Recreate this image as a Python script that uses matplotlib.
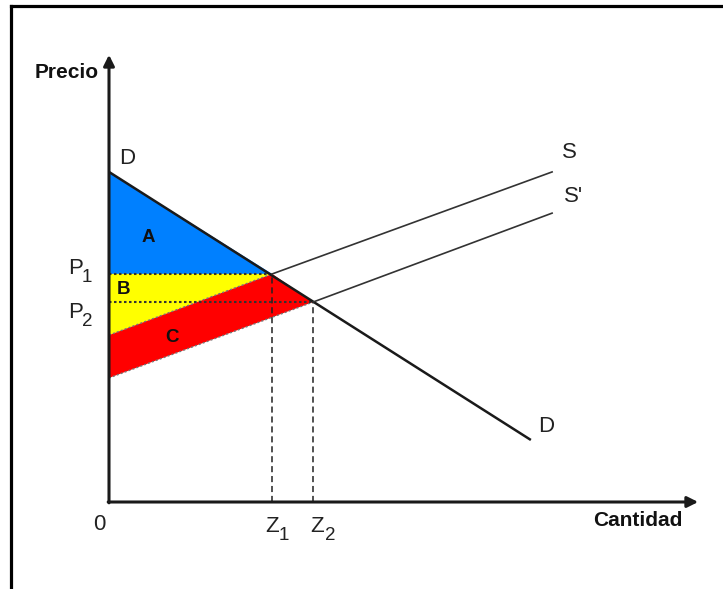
import matplotlib
matplotlib.use("Agg")
import matplotlib.pyplot as plt
from matplotlib.patches import Polygon
from matplotlib.lines import Line2D

plt.rcParams['font.family'] = ['Liberation Sans', 'DejaVu Sans']

# ---- data (economic units) ----
demand_q = [0.0, 10.34]
demand_p = [8.09, 1.52]
supply_intercept = 4.09
supply_q = [4.0, 10.86]
supply_p = [5.59, 8.09]
supply2_intercept = 3.04
supply2_q = [5.0, 10.86]
supply2_p = [4.90, 7.08]
z1, z2 = 4.0, 5.0
p1, p2 = 5.59, 4.90
x_axis_end = 14.44
y_axis_end = 10.96

area_labels = ['A', 'B', 'C']
area_colors = ['#0080FF', '#FFFF00', '#FF0000']

# ---- layout helpers (pixel geometry of the canvas) ----
W, H = 723, 589
OX, OY, S = 109, 502, 40.8


def px(xp, yp):
    return ((xp - OX) / S, (OY - yp) / S)


fig = plt.figure(figsize=(W / 100, H / 100), dpi=100)
ax = fig.add_axes([0, 0, 1, 1])
ax.set_xlim(-OX / S, (W - OX) / S)
ax.set_ylim((OY - H) / S, OY / S)
ax.axis('off')

# frame (left + top)
fig.add_artist(Line2D([11 / W, 11 / W], [0, 1 - 6 / H], color='black', lw=2.3,
                      transform=fig.transFigure))
fig.add_artist(Line2D([11 / W, 1], [1 - 6 / H, 1 - 6 / H], color='black', lw=2.3,
                      transform=fig.transFigure))

# areas
polys = [
    [(0, demand_p[0]), (z1, p1), (0, p1)],
    [(0, p1), (z1, p1), (0, supply_intercept)],
    [(0, supply_intercept), (z1, p1), (z2, p2), (0, supply2_intercept)],
]
for pts, c in zip(polys, area_colors):
    ax.add_patch(Polygon(pts, closed=True, facecolor=c, edgecolor='none', zorder=1))

# polygon border artefacts (dotted)
ax.plot([0, z1], [supply_intercept, p1], color='#777777', lw=1.0,
        linestyle=(0, (1.5, 1.5)), zorder=2)
ax.plot([0, z2], [supply2_intercept, p2], color='#777777', lw=1.0,
        linestyle=(0, (1.5, 1.5)), zorder=2)

# price dotted lines
ax.plot([0, z1], [p1, p1], color='#333333', lw=1.5, linestyle=(0, (1.2, 1.2)), zorder=3)
ax.plot([0, z2], [p2, p2], color='#333333', lw=1.5, linestyle=(0, (1.2, 1.2)), zorder=3)

# quantity dashed lines
ax.plot([z1, z1], [0, p1], color='#222222', lw=1.1, linestyle=(0, (4, 2.5)), zorder=3)
ax.plot([z2, z2], [0, p2], color='#222222', lw=1.1, linestyle=(0, (4, 2.5)), zorder=3)

# curves
ax.plot(demand_q, demand_p, color='#1a1a1a', lw=1.8, zorder=4, solid_capstyle='butt')
ax.plot(supply_q, supply_p, color='#333333', lw=1.2, zorder=4)
ax.plot(supply2_q, supply2_p, color='#333333', lw=1.2, zorder=4)

# axes with arrows
ax.annotate('', xy=(x_axis_end, 0), xytext=(-0.02, 0),
            arrowprops=dict(arrowstyle='-|>', color='#1a1a1a', lw=2.2,
                            mutation_scale=16, shrinkA=0, shrinkB=0), zorder=5)
ax.annotate('', xy=(0, y_axis_end), xytext=(0, -0.02),
            arrowprops=dict(arrowstyle='-|>', color='#1a1a1a', lw=2.2,
                            mutation_scale=16, shrinkA=0, shrinkB=0), zorder=5)

# axis titles
ax.text(*px(35, 72), 'Precio', fontsize=15, fontweight='bold', ha='left',
        va='center', color='#111111')
ax.text(*px(683, 521), 'Cantidad', fontsize=15, fontweight='bold', ha='right',
        va='center', color='#111111')

# curve labels
lab = dict(fontsize=16, color='#222222', ha='center', va='center')
sub = dict(fontsize=13.5, color='#222222', ha='center', va='center')
ax.text(*px(127, 158), 'D', **lab)
ax.text(*px(546, 426), 'D', **lab)
ax.text(*px(569, 153), 'S', **lab)
ax.text(*px(574, 196), "S'", **lab)
ax.text(*px(99, 525), '0', **lab)
ax.text(*px(76, 269), 'P', **lab)
ax.text(*px(87, 278), '1', **sub)
ax.text(*px(76, 312), 'P', **lab)
ax.text(*px(87, 321), '2', **sub)
ax.text(*px(272, 526), 'Z', **lab)
ax.text(*px(284, 535), '1', **sub)
ax.text(*px(317, 526), 'Z', **lab)
ax.text(*px(330, 536), '2', **sub)

# area labels
for (xp, yp), t in zip([(148, 238), (124, 289), (172, 337)], area_labels):
    ax.text(*px(xp, yp), t, fontsize=13.5, fontweight='bold', ha='center',
            va='center', color='#111111', zorder=6)

fig.savefig('out.png', dpi=100)
